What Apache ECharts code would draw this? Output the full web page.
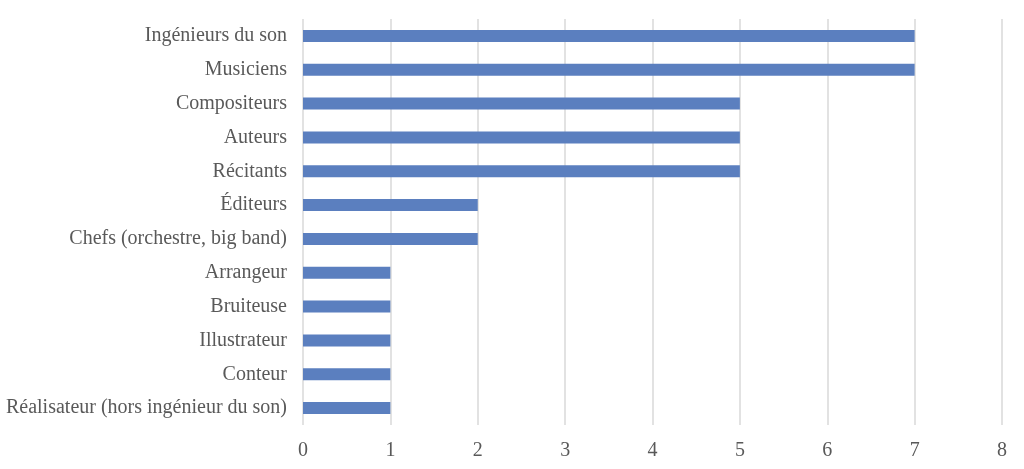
<!DOCTYPE html>
<html>
<head>
<meta charset="utf-8">
<script src="https://cdn.jsdelivr.net/npm/echarts@6/dist/echarts.min.js"></script>
<style>
    html, body { margin: 0; padding: 0; background: #fff; }
    .bar { width: 1024px; height: 469px; }
</style>
</head>
<body>
<div class="bar"></div>
<script>
// catégories (du haut vers le bas)
var categories = [
    'Ingénieurs du son',
    'Musiciens',
    'Compositeurs',
    'Auteurs',
    'Récitants',
    'Éditeurs',
    'Chefs (orchestre, big band)',
    'Arrangeur',
    'Bruiteuse',
    'Illustrateur',
    'Conteur',
    'Réalisateur (hors ingénieur du son)'
];
var values = [7, 7, 5, 5, 5, 2, 2, 1, 1, 1, 1, 1];
var xTicks = [0, 1, 2, 3, 4, 5, 6, 7, 8];

(function () {
    let myEchart = echarts.init(document.getElementsByClassName('bar')[0]);
    let option = {
        animation: false,
        grid: {
            top: 19,
            bottom: 44,
            left: 303,
            right: 22,
            containLabel: false
        },
        xAxis: {
            type: 'value',
            min: xTicks[0],
            max: xTicks[xTicks.length - 1],
            interval: 1,
            axisLine: { show: false },
            axisTick: { show: false },
            axisLabel: {
                color: '#595959',
                fontFamily: 'Liberation Serif',
                fontSize: 20,
                margin: 16
            },
            splitLine: {
                lineStyle: { color: '#d9d9d9', width: 1.5 }
            }
        },
        yAxis: {
            type: 'category',
            inverse: true,
            data: categories,
            axisLine: { show: false },
            axisTick: { show: false },
            axisLabel: {
                color: '#595959',
                fontFamily: 'Liberation Serif',
                fontSize: 20,
                margin: 16
            }
        },
        series: [
            {
                type: 'bar',
                data: values,
                barWidth: 12,
                itemStyle: { color: '#5b7fbf' }
            }
        ]
    };
    myEchart.setOption(option);
})();
</script>
</body>
</html>
